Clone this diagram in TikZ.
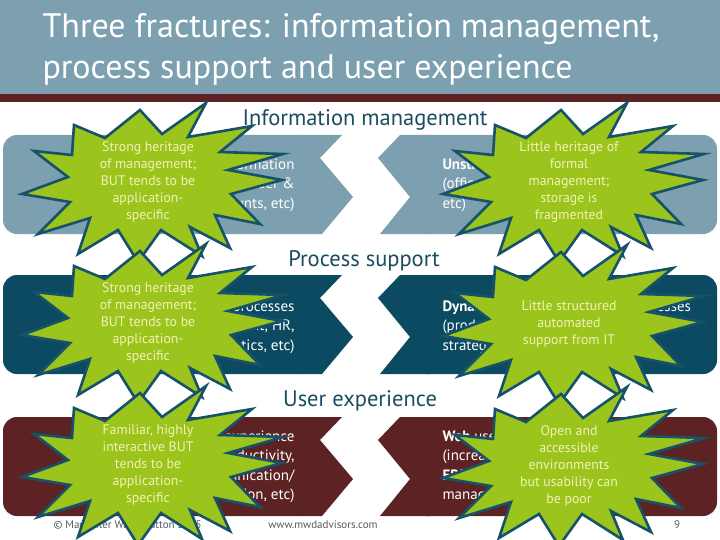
\documentclass[tikz,border=0pt]{standalone}
\usepackage{fontspec}
\setmainfont{PT Sans}
\definecolor{slateblue}{RGB}{124,160,175}
\definecolor{deepteal}{RGB}{12,74,98}
\definecolor{wine}{RGB}{92,34,36}
\definecolor{headteal}{RGB}{26,77,95}
\definecolor{burstlime}{RGB}{155,196,28}
\definecolor{burstedge}{RGB}{22,82,106}
\definecolor{cream}{RGB}{242,242,185}
\tikzset{
  title/.style={text=white,align=left,font=\fontsize{34}{40.5}\selectfont},
  heading/.style={text=headteal,font=\fontsize{22.5}{26}\selectfont},
  bandtext/.style={text=white,font=\fontsize{15}{19.5}\selectfont},
  bursttext/.style={text=cream,align=center,font=\fontsize{13.8}{16.8}\selectfont},
  footer/.style={text=black!65,font=\fontsize{11}{13}\selectfont},
  burst/.pic={
    \filldraw[fill=burstlime,draw=burstedge,line width=2.6pt,line join=miter]
      (58,-79) -- (40,-45) -- (104,-56) -- (72,-30) -- (135,-28) -- (80,-12)
      -- (134,-2) -- (83,12) -- (112,42) -- (67,33) -- (82,66) -- (42,45)
      -- (54,74) -- (13,48) -- (-10,80) -- (-30,48) -- (-70,72) -- (-58,36)
      -- (-110,52) -- (-78,20) -- (-126,12) -- (-80,-5) -- (-114,-31)
      -- (-76,-27) -- (-74,-57) -- (-43,-44) -- (-8,-72) -- (14,-48) -- cycle;
  }
}
\begin{document}
\begin{tikzpicture}[x=1pt,y=-1pt]
\useasboundingbox (0,0) rectangle (720,540);
% title bar
\fill[slateblue] (0,0) rectangle (720,94);
\fill[wine] (0,94) rectangle (720,102);
\node[title,anchor=north west] (title) at (39,10) {Three fractures: information management,\\process support and user experience};
% the three bands, each broken by a zigzag
\foreach \dy/\col in {0/slateblue,140/deepteal,282/wine}{
  \begin{scope}[shift={(0,\dy)}]
  \fill[\col,rounded corners=14] (3,135) rectangle (315,234);
  \fill[\col] (300,135) -- (342,135) -- (320,158) -- (353,197) -- (322,234) -- (300,234) -- cycle;
  \fill[\col,rounded corners=14] (412,135) rectangle (717,234);
  \fill[\col] (400,135) -- (430,135) -- (430,234) -- (380,234) -- (410,197) -- (378,158) -- cycle;
  \end{scope}
}
\node[heading] (infohead) at (365,120) {Information management};
\node[heading] (prochead) at (364,261) {Process support};
\node[heading] (uxhead) at (360,401) {User experience};
\node[bandtext,align=right,anchor=east] (infoleft) at (298,185) {\textbf{Structured} information\\(customer, order \&\\accounts, etc)};
\node[bandtext,align=left,anchor=west] (inforight) at (439,185) {\textbf{Unstructured} information\\(office documents, email,\\etc)};
\node[bandtext,align=right,anchor=east] (procleft) at (298,327) {\textbf{Structured} processes\\(procurement, HR,\\logistics, etc)};
\node[bandtext,align=left,anchor=west] (procright) at (439,327) {\textbf{Dynamic}, often collaborative processes\\(product development,\\strategy, etc)};
\node[bandtext,align=right,anchor=east] (uxleft) at (298,467) {\textbf{Desktop} experience\\(personal productivity,\\communication/\\collaboration, etc)};
\node[bandtext,align=left,anchor=west] (uxright) at (439,467) {\textbf{Web} user experience\\(increasingly\\\textbf{ERP}, CRM, content\\management, etc)};
% footer
\node[footer,anchor=west] (copyright) at (50,525) {© Macehiter Ward-Dutton 2005};
\node[footer] (site) at (323,525) {www.mwdadvisors.com};
\node[footer] (page) at (677,525) {9};
% starbursts
\pic at (148,182) {burst};
\node[bursttext] (infonote) at (148,182) {Strong heritage\\of management;\\BUT tends to be\\application-\\specific};
\pic at (569,182) {burst};
\node[bursttext] (docnote) at (569,182) {Little heritage of\\formal\\management;\\storage is\\fragmented};
\pic at (148,323) {burst};
\node[bursttext] (procnote) at (148,323) {Strong heritage\\of management;\\BUT tends to be\\application-\\specific};
\pic at (569,324) {burst};
\node[bursttext] (dynnote) at (569,324) {Little structured\\automated\\support from IT};
\pic at (148,465) {burst};
\node[bursttext] (desknote) at (148,465) {Familiar, highly\\interactive BUT\\tends to be\\application-\\specific};
\pic at (569,466) {burst};
\node[bursttext] (webnote) at (569,466) {Open and\\accessible\\environments\\but usability can\\be poor};
\end{tikzpicture}
\end{document}
